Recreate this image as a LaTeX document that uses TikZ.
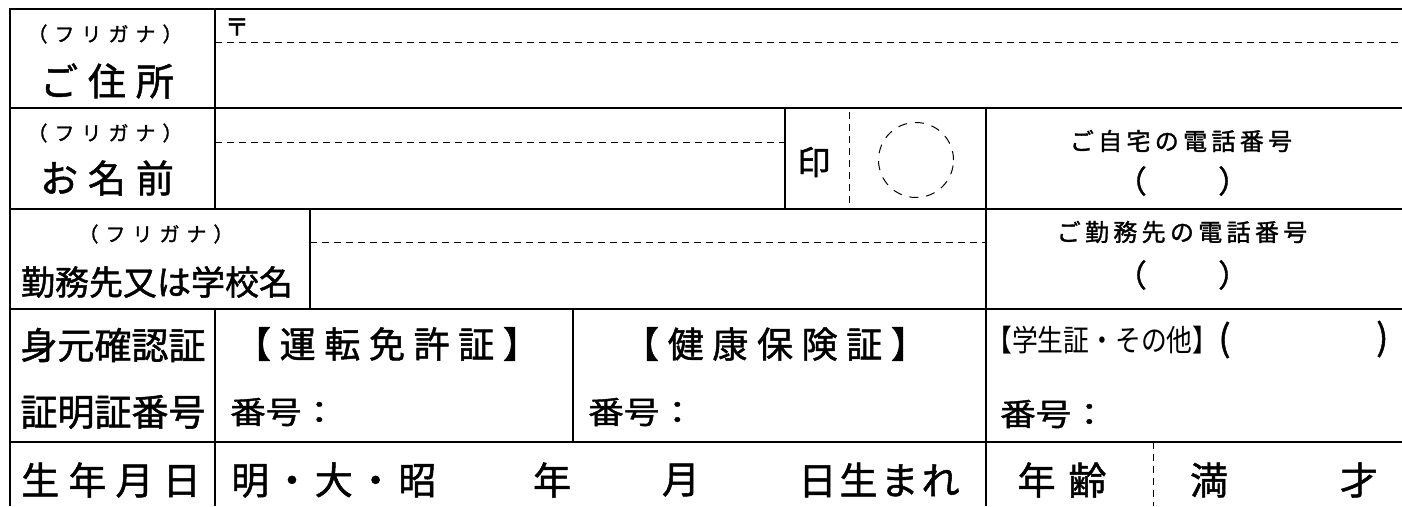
\documentclass[tikz,border=0pt]{standalone}
\usepackage{fontspec}
\usepackage{graphicx}
\setmainfont{Noto Sans CJK JP}[FakeBold=1.3]
\newfontfamily\thinjp{Noto Sans CJK JP}
\newcommand{\jg}[1][0.25]{\hspace{#1em}}
\tikzset{
  frame/.style={line width=2.8pt},
  rule/.style={line width=1.6pt},
  dashline/.style={line width=1pt, dash pattern=on 7pt off 5pt},
  txt/.style={inner sep=0pt},
  big/.style={txt, font=\fontsize{38}{40}\selectfont},
  mid/.style={txt, font=\fontsize{36}{38}\selectfont},
  kana/.style={txt, font=\fontsize{20}{22}\selectfont},
  tel/.style={txt, font=\fontsize{24}{26}\selectfont},
  paren/.style={txt, font=\fontsize{31}{33}\selectfont}
}
\newcommand{\bango}{\scalebox{1.15}[1]{\fontsize{31}{33}\selectfont 番号：}}
\begin{document}
\begin{tikzpicture}[x=1pt, y=-1pt]
\fill[white] (0,0) rectangle (1402,506);
\useasboundingbox (0,0) rectangle (1402,506);
% frame and rows
\draw[frame] (10,506) -- (10,9) -- (1402,9);
\foreach \y in {108,209,309,442}
  \draw[frame] (10,\y) -- (1402,\y);
% columns
\draw[rule] (215,9) -- (215,209);
\draw[rule] (215,309) -- (215,506);
\draw[rule] (310,209) -- (310,309);
\draw[rule] (573,309) -- (573,442);
\draw[rule] (785,108) -- (785,209);
\draw[rule] (986,108) -- (986,506);
% dashed guides
\draw[dashline] (215,42) -- (1402,42);
\draw[dashline] (215,142) -- (785,142);
\draw[dashline] (310,242) -- (986,242);
\draw[dashline] (849,112) -- (849,209);
\draw[dashline] (1153,442) -- (1153,506);
\draw[dashline, dash pattern=on 9pt off 8pt] (916,160) circle (37.5pt);

% address and name
\node[kana] (kana1) at (105,34) {（\jg[0.35]フ\jg[0.35]リ\jg[0.35]ガ\jg[0.35]ナ\jg[0.35]）};
\node[big] (addr) at (107,81) {ご\jg[0.26]住\jg[0.26]所};
\node[txt, font=\fontsize{24}{26}\selectfont] (zip) at (237,27) {〒};
\node[kana] (kana2) at (105,133) {（\jg[0.35]フ\jg[0.35]リ\jg[0.35]ガ\jg[0.35]ナ\jg[0.35]）};
\node[big] (name) at (107,178) {お\jg[0.26]名\jg[0.26]前};
\node[txt, font=\fontsize{33}{35}\selectfont] (seal) at (814,162) {印};

% phones
\node[tel] (hometel) at (1181,141) {ご\jg[0.18]自\jg[0.18]宅\jg[0.18]の\jg[0.18]電\jg[0.18]話\jg[0.18]番\jg[0.18]号};
\node[paren, anchor=east] (homel) at (1147,181) {（};
\node[paren, anchor=west] (homer) at (1218,181) {）};
\node[tel] (worktel) at (1182,232) {ご\jg[0.18]勤\jg[0.18]務\jg[0.18]先\jg[0.18]の\jg[0.18]電\jg[0.18]話\jg[0.18]番\jg[0.18]号};
\node[paren, anchor=east] (workl) at (1147,275) {（};
\node[paren, anchor=west] (workr) at (1218,275) {）};

% workplace
\node[kana] (kana3) at (156,234) {（\jg[0.35]フ\jg[0.35]リ\jg[0.35]ガ\jg[0.35]ナ\jg[0.35]）};
\node[txt, font=\fontsize{34}{36}\selectfont] (school) at (157,282) {勤務先又は学校名};

% identity
\node[txt, font=\fontsize{37}{39}\selectfont] (idcard) at (113,345) {身元確認証};
\node[txt, font=\fontsize{37}{39}\selectfont] (idnum) at (113,412) {証明証番号};
\node[mid] (license) at (387,344) {【\jg[0.24]運\jg[0.24]転\jg[0.24]免\jg[0.24]許\jg[0.24]証\jg[0.24]】};
\node[mid] (insure) at (775,344) {【\jg[0.24]健\jg[0.24]康\jg[0.24]保\jg[0.24]険\jg[0.24]証\jg[0.24]】};
\node[txt, anchor=west] (other) at (986,340) {{\thinjp\fontsize{30}{32}\selectfont\scalebox{0.86}[1]{【学生証・その他】}}{\fontsize{36}{38}\selectfont (}};
\node[mid, anchor=west] (otherr) at (1376,339) {)};
\node[txt, anchor=west] (num1) at (230,412) {\bango};
\node[txt, anchor=west] (num2) at (588,412) {\bango};
\node[txt, anchor=west] (num3) at (1000,414) {\bango};

% birth and age
\node[big] (birth) at (111,480) {生\jg[0.24]年\jg[0.24]月\jg[0.24]日};
\node[big, anchor=west] (era) at (231,480) {明\jg[0.1]・\jg[0.1]大\jg[0.1]・\jg[0.1]昭};
\node[big] (yr) at (552,480) {年};
\node[big] (mo) at (681,480) {月};
\node[big] (day) at (879,480) {日\jg[0.08]生\jg[0.08]ま\jg[0.08]れ};
\node[big] (age) at (1062,480) {年\jg[0.34]齢};
\node[big] (full) at (1209,480) {満};
\node[big] (sai) at (1359,480) {才};
\end{tikzpicture}
\end{document}
